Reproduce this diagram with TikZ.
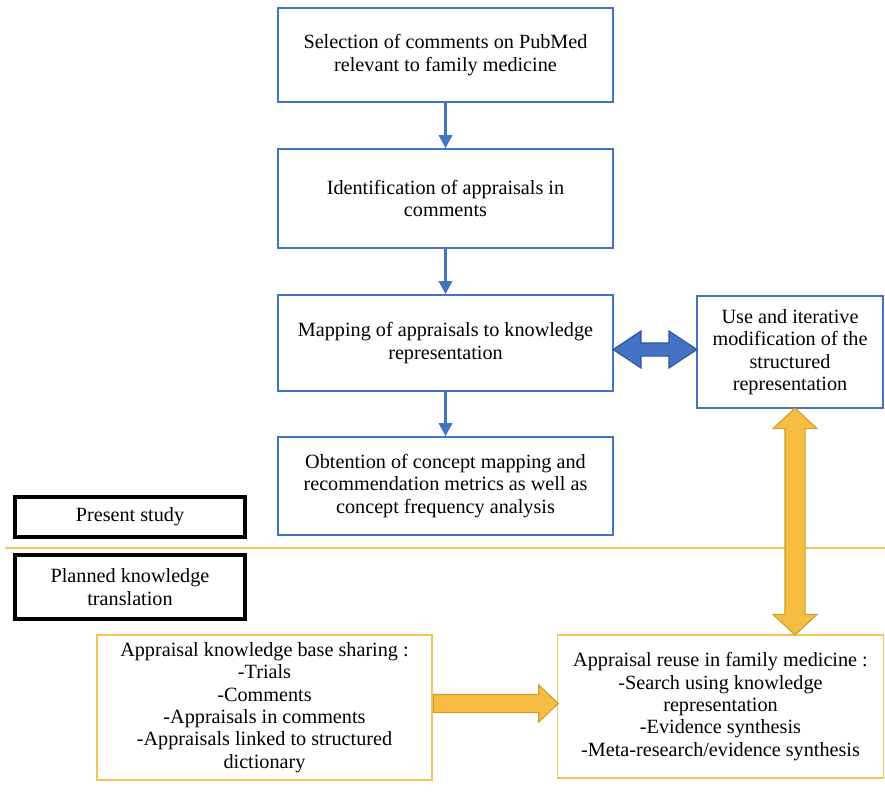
\documentclass[tikz,border=0pt]{standalone}
\usepackage{fontspec}
\setmainfont{Liberation Serif}
\usetikzlibrary{arrows.meta,calc,positioning,shapes.arrows}
\definecolor{boxblue}{HTML}{4472C4}
\definecolor{bluedark}{HTML}{2F5597}
\definecolor{goldline}{HTML}{F5C35C}
\definecolor{goldfill}{HTML}{F6BD42}
\definecolor{golddark}{HTML}{C9A02F}

\begin{document}
\begin{tikzpicture}[
      x=0.02cm, y=-0.02cm,
      box/.style={rectangle, align=center, inner sep=4pt,
        font=\fontsize{11.5}{12.7}\selectfont},
      bluebox/.style={box, draw=boxblue, line width=0.9pt, minimum width=6.7cm},
      keybox/.style={box, draw=black, line width=1.8pt, minimum width=4.6cm},
      goldbox/.style={box, draw=goldline, line width=0.9pt},
      flow/.style={-{Triangle[length=2.6mm, width=2.6mm]}, line width=1.8pt, draw=boxblue},
      bluearrow/.style={double arrow, draw=bluedark, fill=boxblue, line width=0.6pt,
        inner xsep=0pt, inner ysep=0.12cm, double arrow head extend=0.24cm,
        double arrow tip angle=67},
      goldarrow/.style={draw=golddark, fill=goldfill, line width=0.6pt, inner xsep=0pt}
    ]
    \useasboundingbox (0,0) rectangle (885,792);

    % present study
    \node[bluebox, minimum height=1.88cm] (selection) at (445.5,55)
      {Selection of comments on PubMed\\relevant to family medicine};
    \node[bluebox, minimum height=1.98cm] (identification) at (445.5,198.5)
      {Identification of appraisals in\\comments};
    \node[bluebox, minimum height=1.92cm] (mapping) at (445.5,343)
      {Mapping of appraisals to knowledge\\representation};
    \node[bluebox, minimum height=1.96cm] (obtention) at (445.5,486)
      {Obtention of concept mapping and\\recommendation metrics as well as\\concept frequency analysis};
    \node[box, draw=boxblue, line width=0.9pt, minimum width=3.72cm, minimum height=2.24cm]
      (useRep) at (790,352)
      {Use and iterative\\modification of the\\structured\\representation};

    \node[keybox, minimum height=0.8cm] (present) at (130,517) {Present study};
    \node[keybox, minimum height=1.28cm] (planned) at (130,587)
      {Planned knowledge\\translation};

    \draw[draw=goldline, line width=0.9pt] (5,548) -- (885,548);

    % planned knowledge translation
    \node[goldbox, minimum width=6.7cm, minimum height=2.9cm] (sharing) at (264.5,707.5)
      {Appraisal knowledge base sharing :\\-Trials\\-Comments\\-Appraisals in comments\\-Appraisals linked to structured\\dictionary};
    \node[goldbox, minimum width=6.52cm, minimum height=2.86cm] (reuse) at (720.5,706.5)
      {Appraisal reuse in family medicine :\\-Search using knowledge\\representation\\-Evidence synthesis\\-Meta-research/evidence synthesis};

    \draw[flow] (selection) -- (identification);
    \draw[flow] (identification) -- (mapping);
    \draw[flow] (mapping) -- (obtention);

    \node[bluearrow, minimum height=1.68cm] (mapUse)
      at ($(mapping.east)!0.5!(useRep.west)+(0,2)$) {};
    \node[goldarrow, double arrow, rotate=90, minimum height=4.54cm, inner ysep=0.19cm,
      double arrow head extend=0.24cm, double arrow tip angle=94] (useReuse)
      at ($(useRep.south)!0.5!(useRep.south |- reuse.north)+(5,0)$) {};
    \node[goldarrow, single arrow, anchor=tail, minimum height=2.5cm, inner ysep=0.17cm,
      single arrow head extend=0.19cm, single arrow tip angle=87] (shareReuse)
      at ($(sharing.east)+(0,-4)$) {};
  \end{tikzpicture}
\end{document}
